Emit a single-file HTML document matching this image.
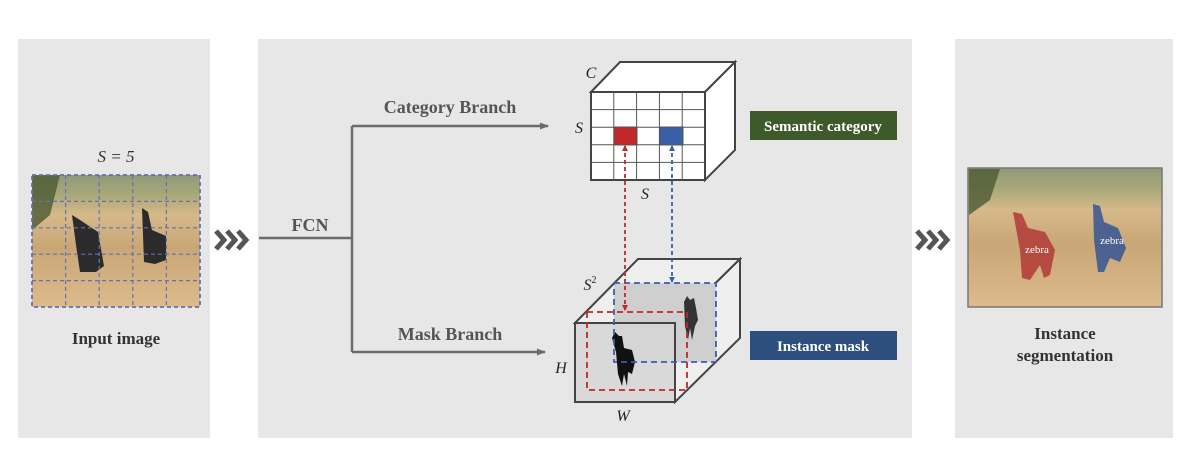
<!DOCTYPE html>
<html><head><meta charset="utf-8"><style>
html,body{margin:0;padding:0;background:#fff;}
svg{display:block;font-family:"Liberation Serif",serif;}
</style></head><body>
<svg width="1199" height="449" viewBox="0 0 1199 449" xmlns="http://www.w3.org/2000/svg">
<defs>
<linearGradient id="img" x1="0" y1="0" x2="0" y2="1">
<stop offset="0" stop-color="#8f9a7a"/><stop offset="0.15" stop-color="#a8a878"/><stop offset="0.3" stop-color="#d6b98a"/><stop offset="0.55" stop-color="#c9a676"/><stop offset="1" stop-color="#dcbb8c"/>
</linearGradient>
<marker id="ah" markerUnits="userSpaceOnUse" markerWidth="9" markerHeight="8" refX="8" refY="4" orient="auto"><path d="M0,0.5 L9,4 L0,7.5 z" fill="#6b6b6b"/></marker>
<marker id="ar" markerUnits="userSpaceOnUse" markerWidth="6" markerHeight="6" refX="5" refY="3" orient="auto-start-reverse"><path d="M0,0 L6,3 L0,6 z" fill="#c0282a"/></marker>
<marker id="ab" markerUnits="userSpaceOnUse" markerWidth="6" markerHeight="6" refX="5" refY="3" orient="auto-start-reverse"><path d="M0,0 L6,3 L0,6 z" fill="#3a5fa8"/></marker>
</defs>
<rect x="18" y="39" width="192" height="399" fill="#e7e7e7"/>
<rect x="258" y="39" width="654" height="399" fill="#e7e7e7"/>
<rect x="955" y="39" width="218" height="399" fill="#e7e7e7"/>

<!-- left image -->
<text x="116" y="162" text-anchor="middle" font-style="italic" font-size="17" fill="#333">S = 5</text>
<rect x="32" y="175" width="168" height="132" fill="url(#img)"/>
<path d="M32,175 L60,175 L50,215 L32,230 z" fill="#4d5a33" opacity="0.8"/>
<path d="M72,215 L80,220 L98,232 L104,266 L96,272 L80,272 L76,245 z" fill="#2b2b2b"/>
<path d="M142,208 L148,212 L152,230 L166,236 L166,260 L155,264 L144,262 z" fill="#2b2b2b"/>
<g stroke="#6670b0" stroke-width="1.2" stroke-dasharray="4,3" fill="none">
<rect x="32" y="175" width="168" height="132" stroke-width="1.8"/>
<path d="M65.6,175V307M99.2,175V307M132.8,175V307M166.4,175V307M32,201.4H200M32,227.8H200M32,254.2H200M32,280.6H200"/>
</g>
<text x="116" y="344" text-anchor="middle" font-weight="bold" font-size="17" fill="#333">Input image</text>

<!-- chevrons -->
<g fill="none" stroke="#555" stroke-width="5">
<path d="M216,231l8,9l-8,9M227,231l8,9l-8,9M238,231l8,9l-8,9"/>
<path d="M917,231l8,9l-8,9M928,231l8,9l-8,9M939,231l8,9l-8,9"/>
</g>

<!-- FCN lines -->
<g stroke="#6b6b6b" stroke-width="2.5" fill="none">
<path d="M259,238H352M352,126V352"/>
<path d="M352,126H548" marker-end="url(#ah)"/>
<path d="M352,352H545" marker-end="url(#ah)"/>
</g>
<text x="310" y="231" text-anchor="middle" font-weight="bold" font-size="18" fill="#555">FCN</text>
<text x="450" y="113" text-anchor="middle" font-weight="bold" font-size="18" fill="#555">Category Branch</text>
<text x="450" y="340" text-anchor="middle" font-weight="bold" font-size="18" fill="#555">Mask Branch</text>

<!-- top cube -->
<g stroke="#444" stroke-width="2" fill="#fff">
<path d="M591,92 L620,62 L735,62 L705,92 z"/>
<path d="M705,92 L735,62 L735,150 L705,180 z"/>
<rect x="591" y="92" width="114" height="88"/>
</g>
<g stroke="#555" stroke-width="1">
<path d="M613.8,92V180M636.6,92V180M659.4,92V180M682.2,92V180M591,109.6H705M591,127.2H705M591,144.8H705M591,162.4H705"/>
</g>
<rect x="614" y="127" width="23" height="18" fill="#c0282a" stroke="#555"/>
<rect x="660" y="127" width="23" height="18" fill="#3a5fa8" stroke="#555"/>
<text x="591" y="78" text-anchor="middle" font-style="italic" font-size="16" fill="#222">C</text>
<text x="579" y="133" text-anchor="middle" font-style="italic" font-size="16" fill="#222">S</text>
<text x="645" y="199" text-anchor="middle" font-style="italic" font-size="16" fill="#222">S</text>

<!-- bottom cube -->
<g stroke="#444" stroke-width="2">
<path d="M575,323 L638,259 L740,259 L675,323 z" fill="#efefef"/>
<path d="M675,323 L740,259 L740,338 L675,402 z" fill="#efefef"/>
</g>
<rect x="614" y="283" width="102" height="79" fill="#cfcfcf"/>
<rect x="575" y="323" width="100" height="79" fill="#d6d6d6" opacity="0.8"/>
<rect x="575" y="323" width="100" height="79" fill="none" stroke="#444" stroke-width="2"/>
<path d="M684,302 l3,-6 l3,4 l4,-2 l2,10 l2,12 l-3,6 l-3,14 l-2,-12 l-2,12 l-3,-14 z" fill="#333"/>
<path d="M612,338 l3,-6 l4,4 l3,0 l2,12 l8,2 l3,12 l-3,12 l-4,-2 l-1,14 l-3,-12 l-2,12 l-4,-12 l-2,-22 z" fill="#111"/>
<rect x="614" y="283" width="102" height="79" fill="none" stroke="#3a5fa8" stroke-width="1.8" stroke-dasharray="6,4"/>
<rect x="587" y="312" width="100" height="78" fill="none" stroke="#c0282a" stroke-width="1.8" stroke-dasharray="6,4"/>
<path d="M625,146V310" stroke="#c0282a" stroke-width="1.8" stroke-dasharray="4,3" marker-start="url(#ar)" marker-end="url(#ar)"/>
<path d="M672,146V282" stroke="#3a5fa8" stroke-width="1.8" stroke-dasharray="4,3" marker-start="url(#ab)" marker-end="url(#ab)"/>
<text x="590" y="290" text-anchor="middle" font-style="italic" font-size="16" fill="#222">S<tspan font-size="10" dy="-7" font-style="normal">2</tspan></text>
<text x="561" y="373" text-anchor="middle" font-style="italic" font-size="16" fill="#222">H</text>
<text x="623" y="421" text-anchor="middle" font-style="italic" font-size="16" fill="#222">W</text>

<!-- labels -->
<rect x="750" y="111" width="147" height="29" fill="#3e5a2b"/>
<text x="823" y="131" text-anchor="middle" font-weight="bold" font-size="15" fill="#fff">Semantic category</text>
<rect x="750" y="331" width="147" height="29" fill="#2c4f7e"/>
<text x="823" y="351" text-anchor="middle" font-weight="bold" font-size="15" fill="#fff">Instance mask</text>

<!-- right image -->
<rect x="968" y="168" width="194" height="139" fill="url(#img)" stroke="#777" stroke-width="1.5"/>
<path d="M969,169 L1000,169 L990,200 L969,215 z" fill="#4d5a33" opacity="0.8"/>
<path d="M1013,212 L1022,214 L1028,228 L1045,232 L1055,250 L1050,275 L1044,278 L1040,265 L1030,280 L1022,278 L1020,250 z" fill="#b3403a" opacity="0.9"/>
<path d="M1093,204 L1100,206 L1104,222 L1118,228 L1126,248 L1120,262 L1110,258 L1104,272 L1098,272 L1094,240 z" fill="#3f5a93" opacity="0.9"/>
<text x="1037" y="253" text-anchor="middle" font-size="11" fill="#fff">zebra</text>
<text x="1112" y="244" text-anchor="middle" font-size="11" fill="#fff">zebra</text>
<text x="1065" y="339" text-anchor="middle" font-weight="bold" font-size="17" fill="#333">Instance</text>
<text x="1065" y="361" text-anchor="middle" font-weight="bold" font-size="17" fill="#333">segmentation</text>
</svg>
</body></html>
